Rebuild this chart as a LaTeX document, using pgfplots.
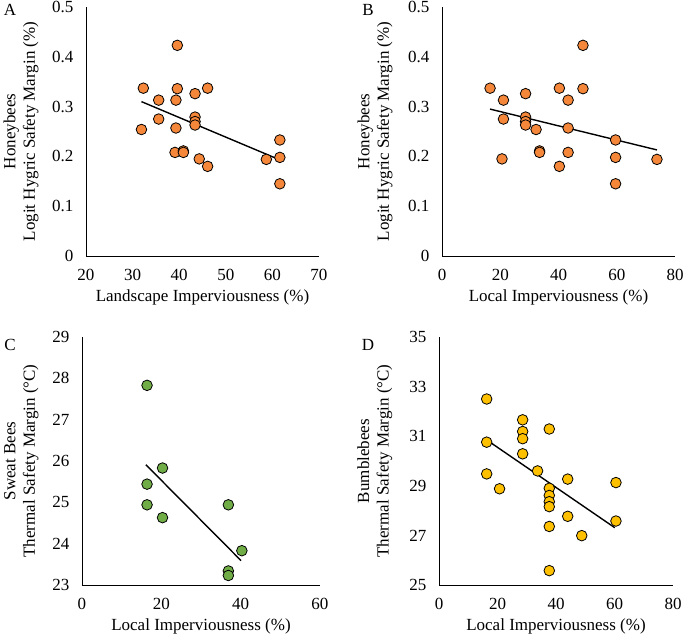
\documentclass[border=0pt]{standalone}
\usepackage{pgfplots}
\pgfplotsset{compat=1.18}
\usepackage{fontspec}
\setmainfont{Liberation Serif}
\definecolor{orng}{HTML}{F4873A}
\definecolor{grn}{HTML}{70AD47}
\definecolor{ylw}{HTML}{FFC000}
\newcommand{\fs}{\fontsize{17}{19.5}\selectfont}
\pgfplotsset{
  panel/.style={
    scale only axis,
    axis x line=bottom, axis y line=left,
    axis line style={-, black, line width=0.9pt},
    tick style={draw=none},
    /pgf/number format/assume math mode=true,
    tick label style={font=\fs},
    label style={font=\fs},
    xticklabel style={yshift=-8pt},
    yticklabel style={xshift=-7pt},
    ylabel style={align=center, anchor=south, at={(axis description cs:#1,0.5)}},
    xlabel style={anchor=north, at={(axis description cs:0.5,-0.122)}},
    clip=false,
  },
  pts/.style={only marks, mark=*, mark size=5.3pt, mark options={draw=black, line width=0.8pt, fill=#1}},
  trend/.style={no marks, black, line width=1.4pt},
}
\begin{document}
\begin{tikzpicture}[x=1pt,y=1pt]
\useasboundingbox (0,0) rectangle (685,638);
% Panel A
\begin{axis}[panel=-0.189, at={(86pt,382pt)}, anchor=south west, width=233pt, height=249pt,
  xmin=20, xmax=70, ymin=0, ymax=0.5, xtick={20,30,...,70}, ytick={0,0.1,...,0.5},
  yticklabel style={/pgf/number format/fixed, /pgf/number format/precision=1},
  xlabel={Landscape Imperviousness (\%)},
  ylabel={Honeybees\\Logit Hygric Safety Margin (\%)}]
\addplot[trend] coordinates {(31.9,0.310) (61.6,0.193)};
\addplot[pts=orng] coordinates {
(31.9,0.254) (32.3,0.337) (35.6,0.313) (35.6,0.275) (39.6,0.423) (39.6,0.336)
(39.3,0.313) (39.3,0.257) (39.1,0.208) (40.9,0.211) (40.9,0.208) (43.4,0.326)
(43.4,0.279) (43.4,0.270) (43.4,0.263) (44.3,0.195) (46.1,0.337) (46.1,0.180)
(58.7,0.194) (61.6,0.233) (61.6,0.198) (61.6,0.145)};
\end{axis}
\node[font=\fs] at (10,628) {A};
% Panel B
\begin{axis}[panel=-0.197, at={(442pt,382pt)}, anchor=south west, width=233pt, height=249pt,
  xmin=0, xmax=80, ymin=0, ymax=0.5, xtick={0,20,...,80}, ytick={0,0.1,...,0.5},
  yticklabel style={/pgf/number format/fixed, /pgf/number format/precision=1},
  xlabel={Local Imperviousness (\%)},
  ylabel={Honeybees\\Logit Hygric Safety Margin (\%)}]
\addplot[trend] coordinates {(16.5,0.295) (73.8,0.213)};
\addplot[pts=orng] coordinates {
(16.5,0.337) (21.1,0.313) (21.1,0.275) (20.6,0.195) (28.7,0.326) (28.7,0.279)
(28.7,0.270) (28.7,0.263) (32.3,0.254) (33.5,0.211) (33.5,0.208) (40.3,0.337)
(40.3,0.180) (43.3,0.313) (43.3,0.257) (43.3,0.208) (48.4,0.423) (48.4,0.336)
(59.6,0.233) (59.6,0.198) (59.6,0.145) (73.8,0.194)};
\end{axis}
\node[font=\fs] at (368,628) {B};
% Panel C
\begin{axis}[panel=-0.168, at={(82pt,53pt)}, anchor=south west, width=238pt, height=248pt,
  xmin=0, xmax=60, ymin=23, ymax=29, xtick={0,20,...,60}, ytick={23,...,29},
  xlabel={Local Imperviousness (\%)},
  ylabel={Sweat Bees\\Thermal Safety Margin (\textdegree C)}]
\addplot[trend] coordinates {(16.1,25.91) (40.1,23.59)};
\addplot[pts=grn] coordinates {
(16.4,27.83) (16.4,25.44) (16.4,24.94) (20.3,25.83) (20.3,24.63)
(36.9,24.94) (36.9,23.34) (36.9,23.23) (40.3,23.83)};
\end{axis}
\node[font=\fs] at (10,293) {C};
% Panel D
\begin{axis}[panel=-0.184, at={(439pt,53pt)}, anchor=south west, width=234pt, height=248pt,
  xmin=0, xmax=80, ymin=25, ymax=35, xtick={0,20,...,80}, ytick={25,27,...,35},
  xlabel={Local Imperviousness (\%)},
  ylabel={Bumblebees\\Thermal Safety Margin (\textdegree C)}]
\addplot[trend] coordinates {(16.3,30.85) (60.1,27.31)};
\addplot[pts=ylw] coordinates {
(16.3,32.50) (16.3,30.76) (16.3,29.48) (20.7,28.88) (28.6,31.66) (28.6,31.19)
(28.6,30.90) (28.6,30.29) (33.7,29.60) (37.7,31.29) (37.7,28.90) (37.7,28.61)
(37.7,28.36) (37.7,28.16) (37.7,27.36) (37.7,25.58) (44.0,29.27) (44.0,27.77)
(48.8,26.99) (60.5,29.13) (60.5,27.58)};
\end{axis}
\node[font=\fs] at (368,293) {D};
\end{tikzpicture}
\end{document}
